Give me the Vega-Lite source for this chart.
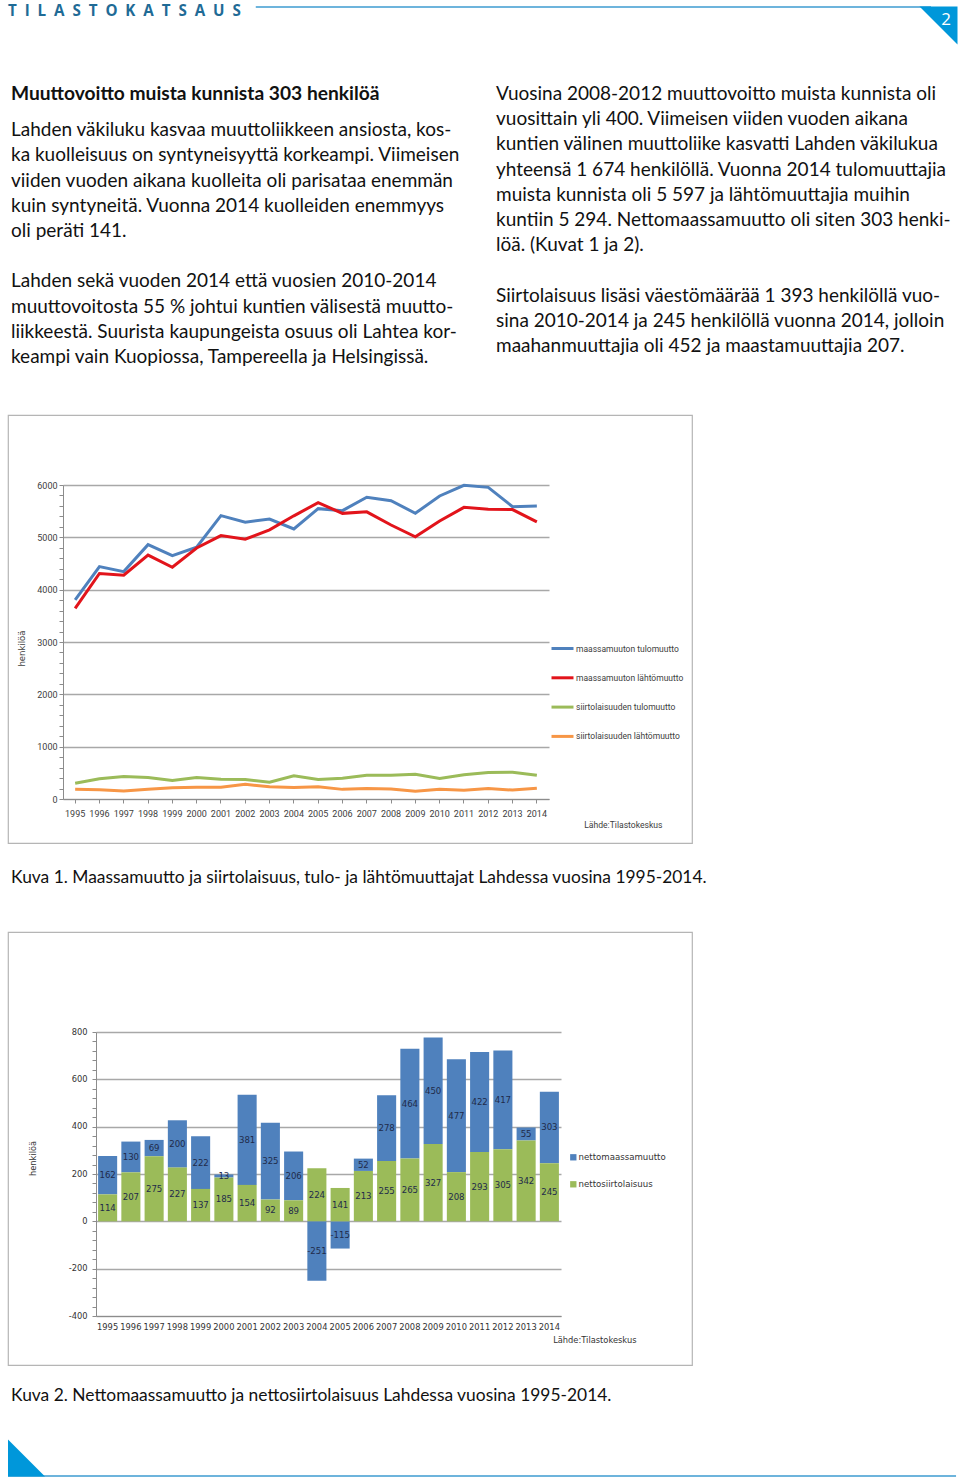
{
  "$schema": "https://vega.github.io/schema/vega-lite/v6.json",
  "padding": {"left": 7, "top": 0, "right": 0, "bottom": 0},
  "spacing": 0,
  "bounds": "flush",
  "resolve": {"scale": {"color": "independent"}, "legend": {"color": "independent"}},
  "config": {"view": {"stroke": null}},
  "datasets": {
    "para": [
      {"col": "L", "line": 0, "kind": "title", "text": "Muuttovoitto muista kunnista 303 henkilöä"},
      {"col": "L", "line": 1, "kind": "body", "text": "Lahden väkiluku kasvaa muuttoliikkeen ansiosta, kos-"},
      {"col": "L", "line": 2, "kind": "body", "text": "ka kuolleisuus on syntyneisyyttä korkeampi. Viimeisen"},
      {"col": "L", "line": 3, "kind": "body", "text": "viiden vuoden aikana kuolleita oli parisataa enemmän"},
      {"col": "L", "line": 4, "kind": "body", "text": "kuin syntyneitä. Vuonna 2014 kuolleiden enemmyys"},
      {"col": "L", "line": 5, "kind": "body", "text": "oli peräti 141."},
      {"col": "L", "line": 7, "kind": "body", "text": "Lahden sekä vuoden 2014 että vuosien 2010-2014"},
      {"col": "L", "line": 8, "kind": "body", "text": "muuttovoitosta 55 % johtui kuntien välisestä muutto-"},
      {"col": "L", "line": 9, "kind": "body", "text": "liikkeestä. Suurista kaupungeista osuus oli Lahtea kor-"},
      {"col": "L", "line": 10, "kind": "body", "text": "keampi vain Kuopiossa, Tampereella ja Helsingissä."},
      {"col": "R", "line": 0, "kind": "rbody", "text": "Vuosina 2008-2012 muuttovoitto muista kunnista oli"},
      {"col": "R", "line": 1, "kind": "rbody", "text": "vuosittain yli 400. Viimeisen viiden vuoden aikana"},
      {"col": "R", "line": 2, "kind": "rbody", "text": "kuntien välinen muuttoliike kasvatti Lahden väkilukua"},
      {"col": "R", "line": 3, "kind": "rbody", "text": "yhteensä 1 674 henkilöllä. Vuonna 2014 tulomuuttajia"},
      {"col": "R", "line": 4, "kind": "rbody", "text": "muista kunnista oli 5 597 ja lähtömuuttajia muihin"},
      {"col": "R", "line": 5, "kind": "rbody", "text": "kuntiin 5 294. Nettomaassamuutto oli siten 303 henki-"},
      {"col": "R", "line": 6, "kind": "rbody", "text": "löä. (Kuvat 1 ja 2)."},
      {"col": "R", "line": 8, "kind": "rbody", "text": "Siirtolaisuus lisäsi väestömäärää 1 393 henkilöllä vuo-"},
      {"col": "R", "line": 9, "kind": "rbody", "text": "sina 2010-2014 ja 245 henkilöllä vuonna 2014, jolloin"},
      {"col": "R", "line": 10, "kind": "rbody", "text": "maahanmuuttajia oli 452 ja maastamuuttajia 207."}
    ],
    "flows": [
      {"year": 1995, "series": "maassamuuton tulomuutto", "value": 3803},
      {"year": 1996, "series": "maassamuuton tulomuutto", "value": 4440},
      {"year": 1997, "series": "maassamuuton tulomuutto", "value": 4345},
      {"year": 1998, "series": "maassamuuton tulomuutto", "value": 4860},
      {"year": 1999, "series": "maassamuuton tulomuutto", "value": 4650},
      {"year": 2000, "series": "maassamuuton tulomuutto", "value": 4810},
      {"year": 2001, "series": "maassamuuton tulomuutto", "value": 5415},
      {"year": 2002, "series": "maassamuuton tulomuutto", "value": 5290},
      {"year": 2003, "series": "maassamuuton tulomuutto", "value": 5350},
      {"year": 2004, "series": "maassamuuton tulomuutto", "value": 5160},
      {"year": 2005, "series": "maassamuuton tulomuutto", "value": 5548},
      {"year": 2006, "series": "maassamuuton tulomuutto", "value": 5510},
      {"year": 2007, "series": "maassamuuton tulomuutto", "value": 5765},
      {"year": 2008, "series": "maassamuuton tulomuutto", "value": 5700},
      {"year": 2009, "series": "maassamuuton tulomuutto", "value": 5460},
      {"year": 2010, "series": "maassamuuton tulomuutto", "value": 5790},
      {"year": 2011, "series": "maassamuuton tulomuutto", "value": 5995},
      {"year": 2012, "series": "maassamuuton tulomuutto", "value": 5955},
      {"year": 2013, "series": "maassamuuton tulomuutto", "value": 5585},
      {"year": 2014, "series": "maassamuuton tulomuutto", "value": 5597},
      {"year": 1995, "series": "maassamuuton lähtömuutto", "value": 3641},
      {"year": 1996, "series": "maassamuuton lähtömuutto", "value": 4310},
      {"year": 1997, "series": "maassamuuton lähtömuutto", "value": 4276},
      {"year": 1998, "series": "maassamuuton lähtömuutto", "value": 4660},
      {"year": 1999, "series": "maassamuuton lähtömuutto", "value": 4428},
      {"year": 2000, "series": "maassamuuton lähtömuutto", "value": 4797},
      {"year": 2001, "series": "maassamuuton lähtömuutto", "value": 5034},
      {"year": 2002, "series": "maassamuuton lähtömuutto", "value": 4965},
      {"year": 2003, "series": "maassamuuton lähtömuutto", "value": 5144},
      {"year": 2004, "series": "maassamuuton lähtömuutto", "value": 5411},
      {"year": 2005, "series": "maassamuuton lähtömuutto", "value": 5663},
      {"year": 2006, "series": "maassamuuton lähtömuutto", "value": 5458},
      {"year": 2007, "series": "maassamuuton lähtömuutto", "value": 5487},
      {"year": 2008, "series": "maassamuuton lähtömuutto", "value": 5236},
      {"year": 2009, "series": "maassamuuton lähtömuutto", "value": 5010},
      {"year": 2010, "series": "maassamuuton lähtömuutto", "value": 5313},
      {"year": 2011, "series": "maassamuuton lähtömuutto", "value": 5573},
      {"year": 2012, "series": "maassamuuton lähtömuutto", "value": 5538},
      {"year": 2013, "series": "maassamuuton lähtömuutto", "value": 5530},
      {"year": 2014, "series": "maassamuuton lähtömuutto", "value": 5294},
      {"year": 1995, "series": "siirtolaisuuden tulomuutto", "value": 302},
      {"year": 1996, "series": "siirtolaisuuden tulomuutto", "value": 386},
      {"year": 1997, "series": "siirtolaisuuden tulomuutto", "value": 430},
      {"year": 1998, "series": "siirtolaisuuden tulomuutto", "value": 411},
      {"year": 1999, "series": "siirtolaisuuden tulomuutto", "value": 354},
      {"year": 2000, "series": "siirtolaisuuden tulomuutto", "value": 411},
      {"year": 2001, "series": "siirtolaisuuden tulomuutto", "value": 378},
      {"year": 2002, "series": "siirtolaisuuden tulomuutto", "value": 373},
      {"year": 2003, "series": "siirtolaisuuden tulomuutto", "value": 321},
      {"year": 2004, "series": "siirtolaisuuden tulomuutto", "value": 443},
      {"year": 2005, "series": "siirtolaisuuden tulomuutto", "value": 373},
      {"year": 2006, "series": "siirtolaisuuden tulomuutto", "value": 397},
      {"year": 2007, "series": "siirtolaisuuden tulomuutto", "value": 455},
      {"year": 2008, "series": "siirtolaisuuden tulomuutto", "value": 455},
      {"year": 2009, "series": "siirtolaisuuden tulomuutto", "value": 474},
      {"year": 2010, "series": "siirtolaisuuden tulomuutto", "value": 392},
      {"year": 2011, "series": "siirtolaisuuden tulomuutto", "value": 462},
      {"year": 2012, "series": "siirtolaisuuden tulomuutto", "value": 506},
      {"year": 2013, "series": "siirtolaisuuden tulomuutto", "value": 512},
      {"year": 2014, "series": "siirtolaisuuden tulomuutto", "value": 452},
      {"year": 1995, "series": "siirtolaisuuden lähtömuutto", "value": 188},
      {"year": 1996, "series": "siirtolaisuuden lähtömuutto", "value": 179},
      {"year": 1997, "series": "siirtolaisuuden lähtömuutto", "value": 155},
      {"year": 1998, "series": "siirtolaisuuden lähtömuutto", "value": 184},
      {"year": 1999, "series": "siirtolaisuuden lähtömuutto", "value": 217},
      {"year": 2000, "series": "siirtolaisuuden lähtömuutto", "value": 226},
      {"year": 2001, "series": "siirtolaisuuden lähtömuutto", "value": 224},
      {"year": 2002, "series": "siirtolaisuuden lähtömuutto", "value": 281},
      {"year": 2003, "series": "siirtolaisuuden lähtömuutto", "value": 232},
      {"year": 2004, "series": "siirtolaisuuden lähtömuutto", "value": 219},
      {"year": 2005, "series": "siirtolaisuuden lähtömuutto", "value": 232},
      {"year": 2006, "series": "siirtolaisuuden lähtömuutto", "value": 184},
      {"year": 2007, "series": "siirtolaisuuden lähtömuutto", "value": 200},
      {"year": 2008, "series": "siirtolaisuuden lähtömuutto", "value": 190},
      {"year": 2009, "series": "siirtolaisuuden lähtömuutto", "value": 147},
      {"year": 2010, "series": "siirtolaisuuden lähtömuutto", "value": 184},
      {"year": 2011, "series": "siirtolaisuuden lähtömuutto", "value": 169},
      {"year": 2012, "series": "siirtolaisuuden lähtömuutto", "value": 201},
      {"year": 2013, "series": "siirtolaisuuden lähtömuutto", "value": 170},
      {"year": 2014, "series": "siirtolaisuuden lähtömuutto", "value": 207}
    ],
    "net": [
      {"year": 1995, "series": "nettomaassamuutto", "value": 162},
      {"year": 1996, "series": "nettomaassamuutto", "value": 130},
      {"year": 1997, "series": "nettomaassamuutto", "value": 69},
      {"year": 1998, "series": "nettomaassamuutto", "value": 200},
      {"year": 1999, "series": "nettomaassamuutto", "value": 222},
      {"year": 2000, "series": "nettomaassamuutto", "value": 13},
      {"year": 2001, "series": "nettomaassamuutto", "value": 381},
      {"year": 2002, "series": "nettomaassamuutto", "value": 325},
      {"year": 2003, "series": "nettomaassamuutto", "value": 206},
      {"year": 2004, "series": "nettomaassamuutto", "value": -251},
      {"year": 2005, "series": "nettomaassamuutto", "value": -115},
      {"year": 2006, "series": "nettomaassamuutto", "value": 52},
      {"year": 2007, "series": "nettomaassamuutto", "value": 278},
      {"year": 2008, "series": "nettomaassamuutto", "value": 464},
      {"year": 2009, "series": "nettomaassamuutto", "value": 450},
      {"year": 2010, "series": "nettomaassamuutto", "value": 477},
      {"year": 2011, "series": "nettomaassamuutto", "value": 422},
      {"year": 2012, "series": "nettomaassamuutto", "value": 417},
      {"year": 2013, "series": "nettomaassamuutto", "value": 55},
      {"year": 2014, "series": "nettomaassamuutto", "value": 303},
      {"year": 1995, "series": "nettosiirtolaisuus", "value": 114},
      {"year": 1996, "series": "nettosiirtolaisuus", "value": 207},
      {"year": 1997, "series": "nettosiirtolaisuus", "value": 275},
      {"year": 1998, "series": "nettosiirtolaisuus", "value": 227},
      {"year": 1999, "series": "nettosiirtolaisuus", "value": 137},
      {"year": 2000, "series": "nettosiirtolaisuus", "value": 185},
      {"year": 2001, "series": "nettosiirtolaisuus", "value": 154},
      {"year": 2002, "series": "nettosiirtolaisuus", "value": 92},
      {"year": 2003, "series": "nettosiirtolaisuus", "value": 89},
      {"year": 2004, "series": "nettosiirtolaisuus", "value": 224},
      {"year": 2005, "series": "nettosiirtolaisuus", "value": 141},
      {"year": 2006, "series": "nettosiirtolaisuus", "value": 213},
      {"year": 2007, "series": "nettosiirtolaisuus", "value": 255},
      {"year": 2008, "series": "nettosiirtolaisuus", "value": 265},
      {"year": 2009, "series": "nettosiirtolaisuus", "value": 327},
      {"year": 2010, "series": "nettosiirtolaisuus", "value": 208},
      {"year": 2011, "series": "nettosiirtolaisuus", "value": 293},
      {"year": 2012, "series": "nettosiirtolaisuus", "value": 305},
      {"year": 2013, "series": "nettosiirtolaisuus", "value": 342},
      {"year": 2014, "series": "nettosiirtolaisuus", "value": 245}
    ]
  },
  "vconcat": [
    {
      "width": 953,
      "height": 415,
      "resolve": {"scale": {"x": "independent", "y": "independent"}},
      "layer": [
        {
          "data": {"name": "para"},
          "transform": [{"filter": "datum.kind === 'title'"}],
          "mark": {"type": "text", "align": "left", "baseline": "middle", "font": "Lato", "fontSize": 19.2, "fontWeight": "bold", "color": "#111111"},
          "encoding": {
            "x": {"field": "col", "type": "nominal", "scale": {"type": "point", "domain": ["L", "R"], "range": [3, 488], "padding": 0}, "axis": null},
            "y": {"field": "line", "type": "quantitative", "scale": {"domain": [0, 10], "range": [94, 346], "nice": false}, "axis": null},
            "text": {"field": "text"}
          }
        },
        {
          "data": {"name": "para"},
          "transform": [{"filter": "datum.kind === 'body'"}],
          "mark": {"type": "text", "align": "left", "baseline": "middle", "font": "Lato", "fontSize": 19, "color": "#111111", "dy": 11},
          "encoding": {
            "x": {"field": "col", "type": "nominal", "scale": {"type": "point", "domain": ["L", "R"], "range": [3, 488], "padding": 0}, "axis": null},
            "y": {"field": "line", "type": "quantitative", "scale": {"domain": [0, 10], "range": [94, 346], "nice": false}, "axis": null},
            "text": {"field": "text"}
          }
        },
        {
          "data": {"name": "para"},
          "transform": [{"filter": "datum.kind === 'rbody'"}],
          "mark": {"type": "text", "align": "left", "baseline": "middle", "font": "Lato", "fontSize": 19, "color": "#111111"},
          "encoding": {
            "x": {"field": "col", "type": "nominal", "scale": {"type": "point", "domain": ["L", "R"], "range": [3, 488], "padding": 0}, "axis": null},
            "y": {"field": "line", "type": "quantitative", "scale": {"domain": [0, 10], "range": [94, 346], "nice": false}, "axis": null},
            "text": {"field": "text"}
          }
        },
        {
          "data": {"values": [{"label": "T\u00a0\u00a0I\u00a0\u00a0L\u00a0\u00a0A\u00a0\u00a0S\u00a0\u00a0T\u00a0\u00a0O\u00a0\u00a0K\u00a0\u00a0A\u00a0\u00a0T\u00a0\u00a0S\u00a0\u00a0A\u00a0\u00a0U\u00a0\u00a0S"}]},
          "mark": {"type": "text", "align": "left", "baseline": "middle", "font": "Open Sans", "fontSize": 15.2, "fontWeight": "bold", "color": "#1f6b96"},
          "encoding": {
            "x": {"datum": 0, "type": "quantitative", "scale": {"domain": [0, 1]}, "axis": null},
            "y": {"datum": 0.0265, "type": "quantitative", "scale": {"domain": [0, 1], "reverse": true}, "axis": null},
            "text": {"field": "label"}
          }
        },
        {
          "data": {"values": [{"deco": "header line"}]},
          "mark": {"type": "rule", "color": "#6db4dc", "strokeWidth": 2},
          "encoding": {
            "x": {"datum": 0.26, "type": "quantitative", "scale": {"domain": [0, 1]}, "axis": null},
            "x2": {"datum": 0.9685},
            "y": {"datum": 0.017, "type": "quantitative", "scale": {"domain": [0, 1], "reverse": true}, "axis": null}
          }
        },
        {
          "data": {"values": [{"deco": "page corner"}]},
          "mark": {"type": "point", "shape": "M -1 -1 L 1 -1 L 1 1 Z", "filled": true, "size": 1444, "color": "#0097da", "opacity": 1, "strokeWidth": 0},
          "encoding": {
            "x": {"datum": 0.9764, "type": "quantitative", "scale": {"domain": [0, 1]}, "axis": null},
            "y": {"datum": 0.0614, "type": "quantitative", "scale": {"domain": [0, 1], "reverse": true}, "axis": null}
          }
        },
        {
          "data": {"values": [{"page": "2"}]},
          "mark": {"type": "text", "align": "center", "baseline": "middle", "font": "Open Sans", "fontSize": 17, "color": "#ffffff"},
          "encoding": {
            "x": {"datum": 0.9843, "type": "quantitative", "scale": {"domain": [0, 1]}, "axis": null},
            "y": {"datum": 0.048, "type": "quantitative", "scale": {"domain": [0, 1], "reverse": true}, "axis": null},
            "text": {"field": "page"}
          }
        }
      ]
    },
    {
      "width": 684,
      "height": 428,
      "view": {"stroke": "#b5b5b5", "strokeWidth": 1.2},
      "data": {"name": "flows"},
      "mark": {"type": "line", "strokeWidth": 3},
      "encoding": {
        "x": {
          "field": "year", "type": "ordinal", "bandPosition": 0.5,
          "scale": {"type": "band", "range": [55, 541], "paddingInner": 0, "paddingOuter": 0},
          "axis": {"offset": -44, "title": "Lähde:Tilastokeskus", "titleX": 654, "titleY": 25, "titleAlign": "right", "titleBaseline": "middle", "titleFont": "Roboto", "titleFontSize": 8.6, "titleFontWeight": "normal", "titleColor": "#404040", "labelAngle": 0, "labelFont": "Roboto", "labelFontSize": 9, "labelColor": "#404040", "labelPadding": 6, "tickSize": 4, "tickColor": "#8c8c8c", "domainColor": "#8c8c8c", "grid": false}
        },
        "y": {
          "field": "value", "type": "quantitative",
          "scale": {"domain": [0, 6000], "range": [384, 70], "nice": false},
          "axis": {"offset": -55, "values": [0, 200, 400, 600, 800, 1000, 1200, 1400, 1600, 1800, 2000, 2200, 2400, 2600, 2800, 3000, 3200, 3400, 3600, 3800, 4000, 4200, 4400, 4600, 4800, 5000, 5200, 5400, 5600, 5800, 6000], "labelExpr": "datum.value % 1000 === 0 ? '' + datum.value : ''", "labelOverlap": false, "grid": true, "gridColor": "#a8a8a8", "gridWidth": 1.3, "gridOpacity": {"condition": {"test": "datum.value % 1000 === 0", "value": 1}, "value": 0}, "tickSize": 4, "tickColor": "#8c8c8c", "domainColor": "#8c8c8c", "labelFont": "Roboto", "labelFontSize": 9, "labelColor": "#404040", "labelPadding": 2, "title": "henkilöä", "titleX": -42, "titleY": 233, "titleAngle": -90, "titleAlign": "center", "titleBaseline": "middle", "titleFont": "DejaVu Sans", "titleFontSize": 8.5, "titleFontWeight": "normal", "titleColor": "#404040"}
        },
        "color": {
          "field": "series", "type": "nominal",
          "scale": {"domain": ["maassamuuton tulomuutto", "maassamuuton lähtömuutto", "siirtolaisuuden tulomuutto", "siirtolaisuuden lähtömuutto"], "range": ["#4f81bd", "#e2141b", "#9bbb59", "#f79646"]},
          "legend": {"orient": "none", "legendX": 542, "legendY": 221, "title": null, "symbolType": "stroke", "symbolSize": 484, "symbolStrokeWidth": 3, "labelFont": "Roboto", "labelFontSize": 8.5, "labelColor": "#404040", "rowPadding": 10.3, "labelOffset": 1}
        }
      }
    },
    {
      "width": 953,
      "height": 89,
      "data": {"values": [{"caption": "Kuva 1. Maassamuutto ja siirtolaisuus, tulo- ja lähtömuuttajat Lahdessa vuosina 1995-2014."}]},
      "mark": {"type": "text", "align": "left", "baseline": "middle", "font": "Lato", "fontSize": 17.4, "color": "#111111"},
      "encoding": {
        "x": {"datum": 0.0032, "type": "quantitative", "scale": {"domain": [0, 1]}, "axis": null},
        "y": {"datum": 0.393, "type": "quantitative", "scale": {"domain": [0, 1], "reverse": true}, "axis": null},
        "text": {"field": "caption"}
      }
    },
    {
      "width": 684,
      "height": 433,
      "view": {"stroke": "#b5b5b5", "strokeWidth": 1.2},
      "data": {"name": "net"},
      "encoding": {
        "x": {
          "field": "year", "type": "ordinal",
          "scale": {"type": "band", "range": [88, 553], "paddingInner": 0.18, "paddingOuter": 0.09},
          "axis": {"offset": -49, "title": "Lähde:Tilastokeskus", "titleX": 628, "titleY": 24, "titleAlign": "right", "titleBaseline": "middle", "titleFont": "DejaVu Sans", "titleFontSize": 8.3, "titleFontWeight": "normal", "titleColor": "#333333", "labelAngle": 0, "labelFont": "DejaVu Sans", "labelFontSize": 8.3, "labelColor": "#333333", "labelPadding": 6, "ticks": false, "domainColor": "#8c8c8c", "grid": false}
        }
      },
      "layer": [
        {
          "mark": {"type": "bar"},
          "encoding": {
            "y": {
              "field": "value", "type": "quantitative", "stack": "zero",
              "scale": {"domain": [-400, 800], "range": [384, 100], "nice": false},
              "axis": {"offset": -88, "values": [-400, -360, -320, -280, -240, -200, -160, -120, -80, -40, 0, 40, 80, 120, 160, 200, 240, 280, 320, 360, 400, 440, 480, 520, 560, 600, 640, 680, 720, 760, 800], "labelExpr": "datum.value % 200 === 0 ? '' + datum.value : ''", "labelOverlap": false, "grid": true, "gridColor": "#a8a8a8", "gridWidth": 1.3, "gridOpacity": {"condition": {"test": "datum.value % 200 === 0", "value": 1}, "value": 0}, "tickSize": 4, "tickColor": "#8c8c8c", "domainColor": "#8c8c8c", "labelFont": "DejaVu Sans", "labelFontSize": 8.3, "labelColor": "#333333", "labelPadding": 5, "title": "henkilöä", "titleX": -63, "titleY": 226, "titleAngle": -90, "titleAlign": "center", "titleBaseline": "middle", "titleFont": "DejaVu Sans", "titleFontSize": 8.3, "titleFontWeight": "normal", "titleColor": "#333333"}
            },
            "color": {
              "field": "series", "type": "nominal",
              "scale": {"domain": ["nettomaassamuutto", "nettosiirtolaisuus"], "range": ["#4f81bd", "#9bbb59"]},
              "legend": {"orient": "none", "legendX": 561, "legendY": 221, "title": null, "symbolType": "square", "symbolSize": 40, "symbolStrokeWidth": 0, "labelFont": "DejaVu Sans", "labelFontSize": 8.6, "labelColor": "#333333", "rowPadding": 18, "labelOffset": 1}
            },
            "order": {"field": "series", "sort": "descending"}
          }
        },
        {
          "mark": {"type": "text", "align": "center", "baseline": "middle", "font": "DejaVu Sans", "fontSize": 8.6, "color": "#1f2b4a"},
          "encoding": {
            "y": {
              "field": "value", "type": "quantitative", "stack": "zero", "bandPosition": 0.5,
              "scale": {"domain": [-400, 800], "range": [384, 100], "nice": false},
              "axis": {"offset": -88, "values": [-400, -360, -320, -280, -240, -200, -160, -120, -80, -40, 0, 40, 80, 120, 160, 200, 240, 280, 320, 360, 400, 440, 480, 520, 560, 600, 640, 680, 720, 760, 800], "labelExpr": "datum.value % 200 === 0 ? '' + datum.value : ''", "labelOverlap": false, "grid": true, "gridColor": "#a8a8a8", "gridWidth": 1.3, "gridOpacity": {"condition": {"test": "datum.value % 200 === 0", "value": 1}, "value": 0}, "tickSize": 4, "tickColor": "#8c8c8c", "domainColor": "#8c8c8c", "labelFont": "DejaVu Sans", "labelFontSize": 8.3, "labelColor": "#333333", "labelPadding": 5, "title": "henkilöä", "titleX": -63, "titleY": 226, "titleAngle": -90, "titleAlign": "center", "titleBaseline": "middle", "titleFont": "DejaVu Sans", "titleFontSize": 8.3, "titleFontWeight": "normal", "titleColor": "#333333"}
            },
            "detail": {"field": "series"},
            "order": {"field": "series", "sort": "descending"},
            "text": {"field": "value"}
          }
        }
      ]
    },
    {
      "width": 953,
      "height": 114,
      "layer": [
        {
          "data": {"values": [{"caption": "Kuva 2. Nettomaassamuutto ja nettosiirtolaisuus Lahdessa vuosina 1995-2014."}]},
          "mark": {"type": "text", "align": "left", "baseline": "middle", "font": "Lato", "fontSize": 17.4, "color": "#111111"},
          "encoding": {
            "x": {"datum": 0.0032, "type": "quantitative", "scale": {"domain": [0, 1]}, "axis": null},
            "y": {"datum": 0.272, "type": "quantitative", "scale": {"domain": [0, 1], "reverse": true}, "axis": null},
            "text": {"field": "caption"}
          }
        },
        {
          "data": {"values": [{"deco": "footer line"}]},
          "mark": {"type": "rule", "color": "#6db4dc", "strokeWidth": 2},
          "encoding": {
            "x": {"datum": 0, "type": "quantitative", "scale": {"domain": [0, 1]}, "axis": null},
            "x2": {"datum": 0.9948},
            "y": {"datum": 0.974, "type": "quantitative", "scale": {"domain": [0, 1], "reverse": true}, "axis": null}
          }
        },
        {
          "data": {"values": [{"deco": "page corner"}]},
          "mark": {"type": "point", "shape": "M -1 -1 L -1 1 L 1 1 Z", "filled": true, "size": 1369, "color": "#0097da", "opacity": 1, "strokeWidth": 0},
          "encoding": {
            "x": {"datum": 0.0194, "type": "quantitative", "scale": {"domain": [0, 1]}, "axis": null},
            "y": {"datum": 0.816, "type": "quantitative", "scale": {"domain": [0, 1], "reverse": true}, "axis": null}
          }
        }
      ]
    }
  ]
}
